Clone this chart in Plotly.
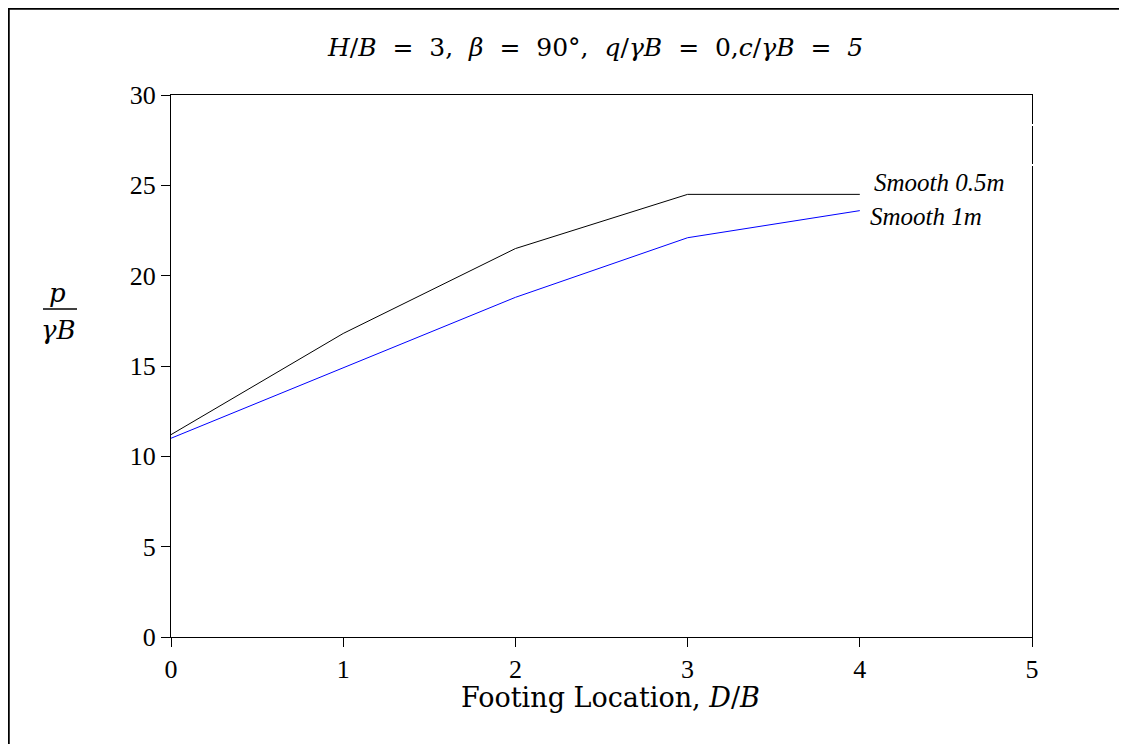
import plotly.graph_objects as go

x_vals = [0, 1, 2, 3, 4]
smooth_05 = [11.2, 16.8, 21.5, 24.5, 24.5]
smooth_1 = [11.0, 14.9, 18.8, 22.1, 23.6]
x_ticks = [0, 1, 2, 3, 4, 5]
y_ticks = [0, 5, 10, 15, 20, 25, 30]

# page body has an 8px margin; figure coordinates are screen - 8
W, H = 1111, 736
L, R, T, B = 163, 87, 87, 107
pw, ph = W - L - R, H - T - B

def px(xp):
    return (xp - L) / pw

def py(yp):
    return (H - B - yp) / ph

serif = "Liberation Serif, Times New Roman, serif"
wide = "DejaVu Serif, serif"

fig = go.Figure()
fig.add_trace(go.Scatter(x=x_vals, y=smooth_05, mode="lines",
                         line=dict(color="black", width=1), showlegend=False))
fig.add_trace(go.Scatter(x=x_vals, y=smooth_1, mode="lines",
                         line=dict(color="blue", width=1), showlegend=False))

axis_common = dict(showgrid=False, zeroline=False, showline=True, linecolor="black",
                   linewidth=1, ticks="outside", ticklen=9, tickcolor="black",
                   tickfont=dict(family=serif, size=26, color="black"))
fig.update_xaxes(range=[0, 5], tickvals=x_ticks, mirror=True, **axis_common)
fig.update_yaxes(range=[0, 30], tickvals=y_ticks, mirror=True, **axis_common)

sp = "\u00a0"
eq = sp * 2 + "=" + sp * 2
title_txt = ("<i>H</i>/<i>B</i>" + eq + "3," + sp * 2 + "<i>β</i>" + eq +
             "90°," + sp * 2 + "<i>q</i>/<i>γB</i>" + eq + "0,<i>c</i>/<i>γB</i>" +
             eq + "<i>5</i>")

def note(x, y, text, family, size):
    return dict(x=px(x), y=py(y), xref="paper", yref="paper", showarrow=False,
                xanchor="center", yanchor="middle", text=text,
                font=dict(family=family, size=size, color="black"))

ann = [
    note(587, 39, title_txt, wide, 25),
    note(602, 689, "Footing Location, <i>D</i>/<i>B</i>", wide, 27),
    note(49, 285, "<i>p</i>", wide, 26),
    note(51, 322, "<i>γB</i>", wide, 26),
]
ann.append(dict(x=4.07, y=25.18, xref="x", yref="y", showarrow=False, xanchor="left",
                yanchor="middle", text="<i>Smooth 0.5m</i>",
                font=dict(family=serif, size=25, color="black")))
ann.append(dict(x=4.05, y=23.3, xref="x", yref="y", showarrow=False, xanchor="left",
                yanchor="middle", text="<i>Smooth 1m</i>",
                font=dict(family=serif, size=25, color="black")))

shapes = [
    dict(type="line", xref="paper", yref="paper", x0=px(35), x1=px(69), y0=py(301), y1=py(301),
         line=dict(color="black", width=1.5)),
    dict(type="line", xref="paper", yref="paper", x0=px(0.5), x1=px(0.5), y0=py(0), y1=py(760),
         line=dict(color="black", width=2.5)),
    dict(type="line", xref="paper", yref="paper", x0=px(0), x1=px(1130), y0=py(0.5), y1=py(0.5),
         line=dict(color="black", width=2.5)),
    dict(type="line", xref="paper", yref="paper", x0=px(W - R - 2), x1=px(W - R + 2),
         y0=py(117), y1=py(117), line=dict(color="white", width=2)),
    dict(type="line", xref="paper", yref="paper", x0=px(W - R - 2), x1=px(W - R + 2),
         y0=py(157), y1=py(157), line=dict(color="white", width=2)),
]

fig.update_layout(width=W, height=H, margin=dict(l=L, r=R, t=T, b=B),
                  plot_bgcolor="white", paper_bgcolor="white",
                  annotations=ann, shapes=shapes, showlegend=False)

fig.write_html("out.html")
